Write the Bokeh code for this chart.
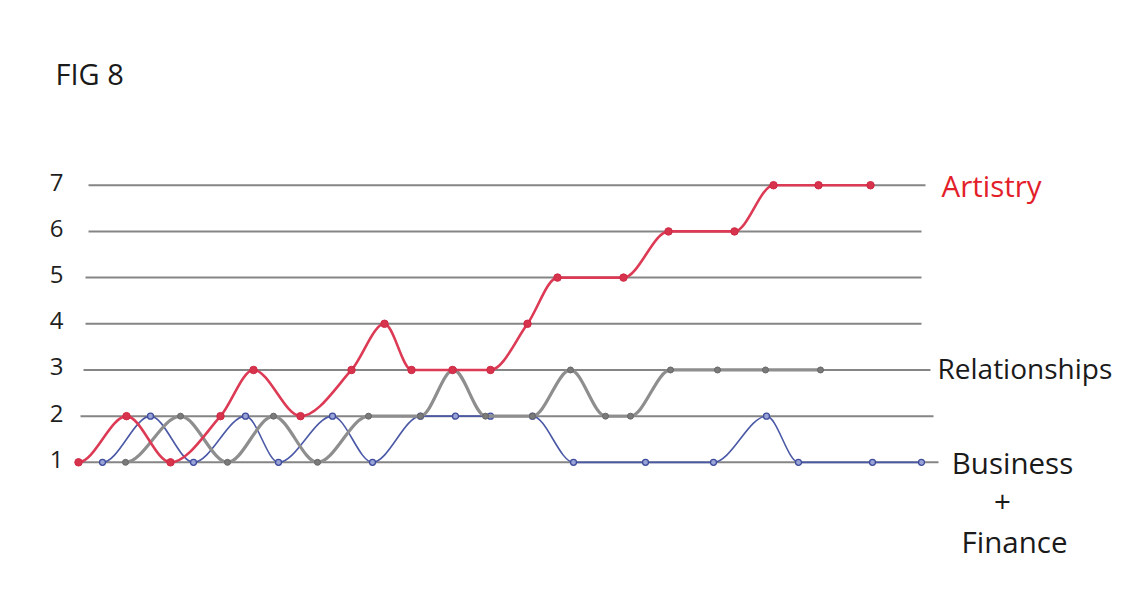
import numpy as np
from bokeh.plotting import figure
from bokeh.models import Range1d, ColumnDataSource
from bokeh.core.properties import value
from bokeh.embed import file_html
from bokeh.resources import INLINE

# ---- data (x = time steps, y = level 1..7) ----
levels = [1, 2, 3, 4, 5, 6, 7]
level_labels = ["1", "2", "3", "4", "5", "6", "7"]

artistry_x = [0, 4.8, 9.2, 14.2, 17.5, 22.2, 27.3, 30.6, 33.3, 37.4, 41.2, 44.9, 47.9, 54.5, 59.0, 65.6, 69.5, 74.0, 79.2]
artistry_y = [1, 2, 1, 2, 3, 2, 3, 4, 3, 3, 3, 4, 5, 5, 6, 6, 7, 7, 7]

relationships_x = [4.7, 10.2, 14.9, 19.5, 23.9, 29.0, 34.2, 37.5, 40.7, 45.4, 49.2, 52.7, 55.2, 59.2, 63.9, 68.7, 74.2]
relationships_y = [1, 2, 1, 2, 1, 2, 2, 3, 2, 2, 3, 2, 2, 3, 3, 3, 3]

business_x = [2.4, 7.2, 11.5, 16.7, 20.0, 25.4, 29.4, 34.2, 37.7, 41.2, 45.4, 49.5, 56.7, 63.5, 68.8, 72.0, 79.4, 84.3]
business_y = [1, 2, 1, 2, 1, 2, 1, 2, 2, 2, 2, 1, 1, 1, 2, 1, 1, 1]

series_names = ["Artistry", "Relationships", "Business", "+", "Finance"]


def smooth_segments(xs, ys):
    """Cubic Hermite (monotone tangents) expressed as Bezier segments."""
    x = np.asarray(xs, float)
    y = np.asarray(ys, float)
    h = np.diff(x)
    d = np.diff(y) / h
    n = len(x)
    m = np.zeros(n)
    for i in range(1, n - 1):
        if d[i - 1] * d[i] > 0:
            w1 = 2 * h[i] + h[i - 1]
            w2 = h[i] + 2 * h[i - 1]
            m[i] = (w1 + w2) / (w1 / d[i - 1] + w2 / d[i])
    return dict(
        x0=x[:-1], y0=y[:-1], x1=x[1:], y1=y[1:],
        cx0=x[:-1] + h / 3, cy0=y[:-1] + m[:-1] * h / 3,
        cx1=x[1:] - h / 3, cy1=y[1:] - m[1:] * h / 3,
    )


FONT = value("Open Sans")

p = figure(width=1116, height=593, output_backend="svg", toolbar_location=None,
           x_range=Range1d(-7.8, 103.8), y_range=Range1d(-1.84, 11.0),
           x_axis_type=None, y_axis_type=None, min_border=0)
p.outline_line_color = None
p.xgrid.visible = False
p.ygrid.visible = False
p.background_fill_color = "white"
p.border_fill_color = "white"

# horizontal level lines
g_x0 = [0.2, 0.2, 0.5, 0.7, 0.7, 1.0, 1.0]
g_x1 = [86.0, 85.5, 85.2, 84.3, 84.3, 84.3, 84.7]
p.segment(x0=g_x0, y0=levels, x1=g_x1, y1=levels, line_color="#858585", line_width=2)

# level labels
p.text(x=[-2.2] * len(levels), y=levels, text=level_labels, text_align="center",
       text_baseline="middle", text_font=FONT, text_font_size="24px",
       text_color="#1e1e1e", y_offset=-3)

# Business + Finance (blue)
bs = ColumnDataSource(smooth_segments(business_x, business_y))
p.bezier(x0="x0", y0="y0", x1="x1", y1="y1", cx0="cx0", cy0="cy0", cx1="cx1", cy1="cy1",
         source=bs, line_color="#4a58a6", line_width=1.6)
p.scatter(business_x, business_y, size=6, line_color="#3d4b9c", fill_color="#9aa3d6", line_width=1.3)

# Relationships (gray)
rs = ColumnDataSource(smooth_segments(relationships_x, relationships_y))
p.bezier(x0="x0", y0="y0", x1="x1", y1="y1", cx0="cx0", cy0="cy0", cx1="cx1", cy1="cy1",
         source=rs, line_color="#8e8e8e", line_width=3.2)
p.scatter(relationships_x, relationships_y, size=6, line_color="#666666", fill_color="#7a7a7a")

# Artistry (red)
ar = ColumnDataSource(smooth_segments(artistry_x, artistry_y))
p.bezier(x0="x0", y0="y0", x1="x1", y1="y1", cx0="cx0", cy0="cy0", cx1="cx1", cy1="cy1",
         source=ar, line_color="#dc3a55", line_width=2.6)
p.scatter(artistry_x, artistry_y, size=7.5, line_color="#cf2a45", fill_color="#d8334d")

# title
p.text(x=[-2.3], y=[9.43], text=["FIG 8"], text_align="left", text_baseline="middle",
       text_font=FONT, text_font_size="29px", text_color="#1a1a1a")

# series labels
p.text(x=[86.3], y=[7.0], text=[series_names[0]], text_align="left", text_baseline="middle",
       text_font=FONT, text_font_size="29.5px", text_color="#e3202a")
p.text(x=[85.9], y=[3.05], text=[series_names[1]], text_align="left", text_baseline="middle",
       text_font=FONT, text_font_size="28px", text_color="#1a1a1a")
p.text(x=[93.4, 92.4, 93.6], y=[1.0, 0.16, -0.71], text=series_names[2:],
       text_align="center", text_baseline="middle",
       text_font=FONT, text_font_size="29.5px", text_color="#1a1a1a")

open("out.html", "w").write(file_html(p, INLINE))
